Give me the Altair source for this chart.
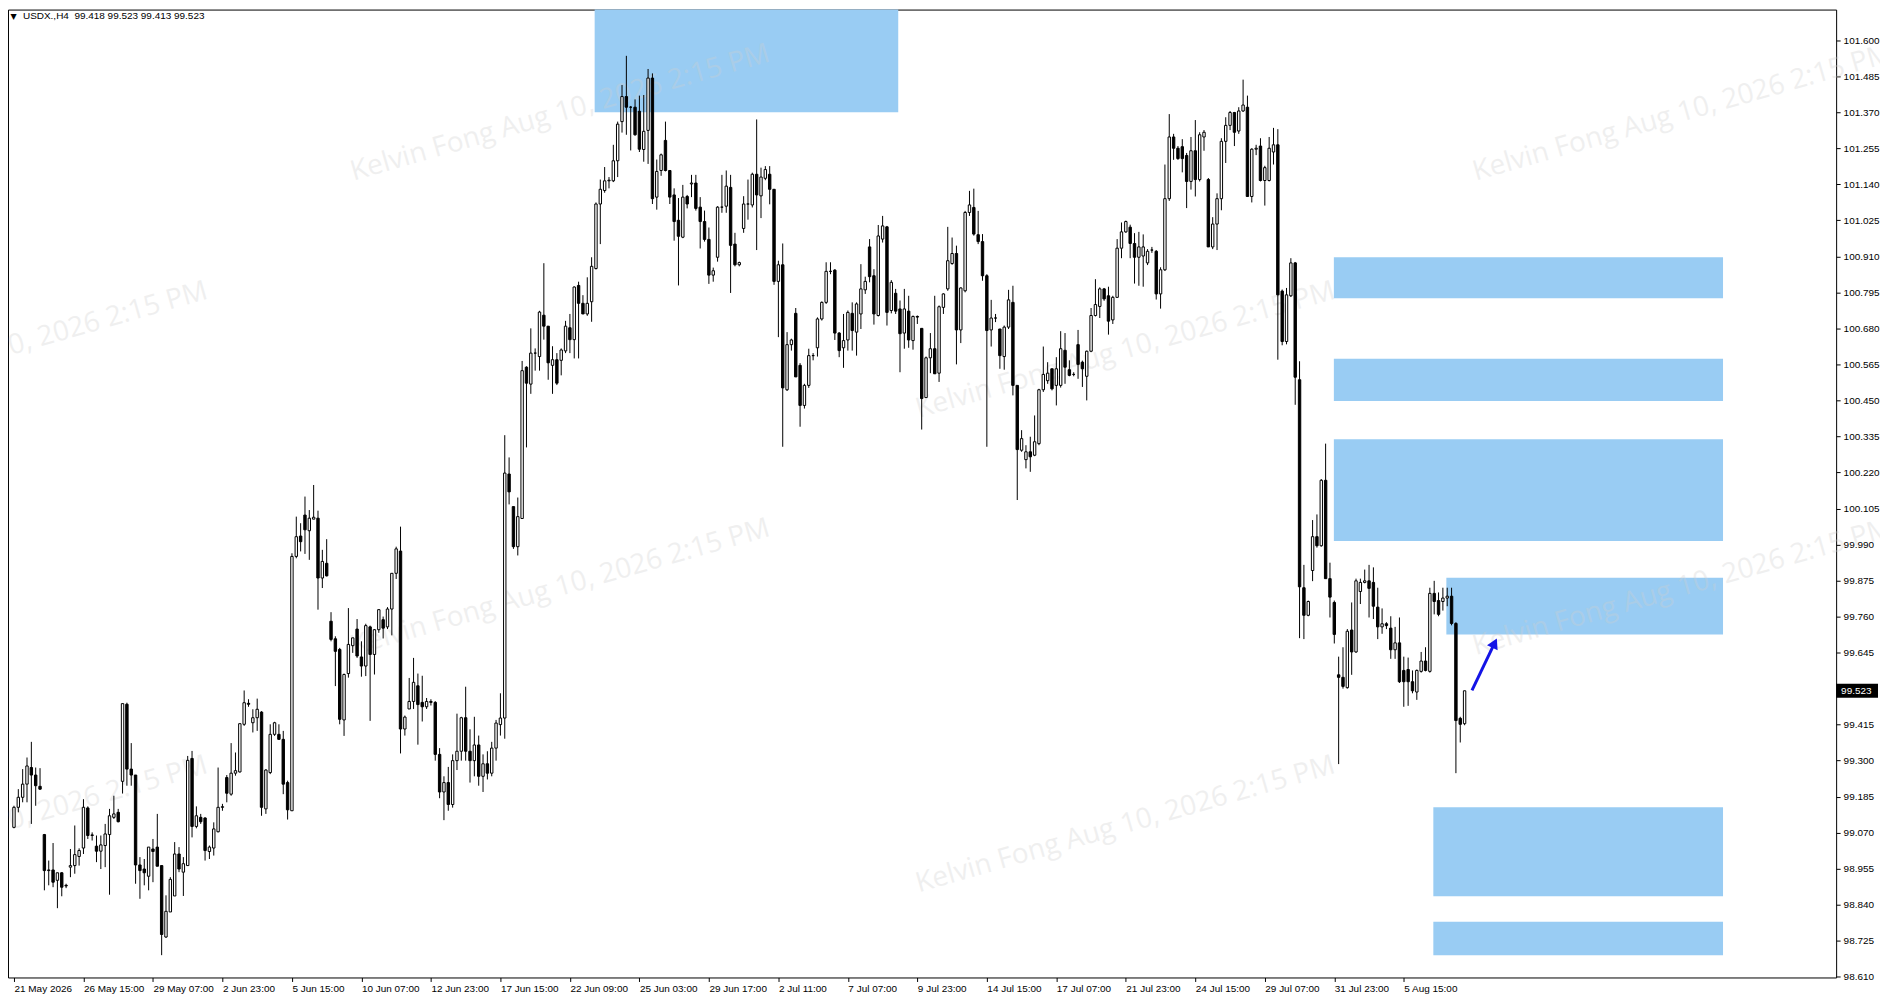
import altair as alt
import pandas as pd

opens = [
99.087,99.151,99.183,99.225,99.278,99.254,99.218,99.064,98.949,98.951,
98.918,98.942,98.902,98.960,98.965,98.994,99.021,99.149,99.061,99.027,
99.011,99.029,99.064,99.119,99.135,99.234,99.480,99.273,99.254,98.967,
98.954,98.931,99.018,99.024,98.965,98.737,98.817,98.868,99.002,98.944,
98.965,99.307,99.090,99.119,99.117,99.010,99.021,99.073,99.151,99.246,
99.193,99.260,99.264,99.416,99.483,99.421,99.437,99.455,99.146,99.262,
99.384,99.384,99.368,99.230,99.140,99.952,100.017,100.084,100.034,100.071,
100.074,99.883,99.930,99.745,99.689,99.655,99.430,99.578,99.667,99.720,
99.631,99.602,99.727,99.639,99.718,99.750,99.727,99.784,99.898,99.969,
99.401,99.465,99.489,99.539,99.486,99.472,99.489,99.486,99.320,99.200,
99.230,99.160,99.300,99.330,99.437,99.330,99.300,99.350,99.250,99.290,
99.260,99.340,99.415,99.436,100.215,100.111,99.983,100.073,100.556,100.502,
100.601,100.590,100.722,100.687,100.562,100.580,100.578,100.608,100.682,100.644,
100.817,100.760,100.726,100.765,100.871,101.077,101.120,101.151,101.151,101.215,
101.340,101.420,101.386,101.386,101.373,101.251,101.312,101.479,101.099,101.184,
101.280,101.184,101.106,101.025,100.971,101.101,101.141,101.144,101.067,101.021,
100.964,100.850,100.907,101.067,101.070,101.130,100.949,100.883,100.999,101.077,
101.074,101.172,101.103,101.159,101.172,101.124,100.830,100.883,100.484,100.628,
100.728,100.562,100.434,100.498,100.593,100.618,100.710,100.763,100.862,100.866,
100.665,100.618,100.643,100.728,100.668,100.726,100.803,100.940,100.848,100.721,
100.965,101.004,100.737,100.792,100.742,100.665,100.735,100.641,100.718,100.680,
100.459,100.586,100.615,100.537,100.747,100.806,100.887,100.919,100.675,100.800,
101.050,101.066,100.979,100.957,100.848,100.675,100.713,100.678,100.590,100.684,
100.763,100.498,100.291,100.261,100.286,100.275,100.312,100.484,100.513,100.551,
100.498,100.498,100.610,100.548,100.533,100.628,100.572,100.527,100.607,100.721,
100.750,100.806,100.784,100.707,100.779,100.936,100.988,101.003,100.951,100.907,
100.911,100.889,100.930,100.926,100.790,100.867,101.094,101.291,101.255,101.260,
101.232,101.149,101.247,101.155,101.291,101.155,100.940,101.013,101.094,101.277,
101.328,101.369,101.310,101.374,101.386,101.101,101.252,101.262,101.152,101.152,
101.243,101.266,100.799,100.638,100.784,100.889,100.516,99.852,99.764,99.907,
100.015,99.986,100.195,99.881,99.805,99.574,99.566,99.533,99.717,99.647,
99.840,99.869,99.874,99.869,99.790,99.727,99.737,99.723,99.654,99.676,
99.588,99.591,99.552,99.519,99.585,99.618,99.585,99.834,99.811,99.808,
99.819,99.825,99.738,99.435,99.418]

highs = [
99.156,99.209,99.273,99.310,99.360,99.278,99.276,99.066,98.981,99.037,
98.942,98.944,98.907,99.018,99.093,99.020,99.177,99.154,99.071,99.061,
99.061,99.098,99.146,99.188,99.146,99.482,99.485,99.356,99.254,98.992,
98.986,99.024,99.050,99.130,98.965,98.870,98.928,99.040,99.024,98.992,
99.315,99.331,99.154,99.130,99.119,99.029,99.103,99.278,99.162,99.254,
99.356,99.326,99.418,99.524,99.496,99.464,99.498,99.458,99.273,99.416,
99.424,99.416,99.395,99.236,99.962,100.079,100.058,100.143,100.100,100.180,
100.098,99.973,100.007,99.774,99.697,99.660,99.578,99.787,99.692,99.752,
99.681,99.737,99.731,99.720,99.784,99.760,99.790,99.898,99.983,100.047,
99.444,99.564,99.628,99.578,99.571,99.500,99.496,99.490,99.340,99.250,
99.280,99.320,99.450,99.440,99.536,99.400,99.440,99.380,99.320,99.330,
99.360,99.430,99.515,100.339,100.268,100.111,100.140,100.576,100.559,100.680,
100.616,100.736,100.888,100.687,100.623,100.601,100.616,100.704,100.726,100.814,
100.829,100.786,100.843,100.907,101.082,101.155,101.195,101.163,101.266,101.340,
101.457,101.550,101.390,101.411,101.423,101.425,101.508,101.494,101.219,101.238,
101.340,101.184,101.127,101.096,101.138,101.106,101.170,101.170,101.099,101.056,
101.002,100.874,101.070,101.170,101.184,101.170,100.985,100.893,101.102,101.155,
101.177,101.347,101.193,101.198,101.198,101.124,100.896,100.951,100.668,100.647,
100.745,100.569,100.503,100.615,100.601,100.715,100.766,100.891,100.891,100.869,
100.668,100.726,100.737,100.763,100.763,100.885,100.845,100.965,100.869,101.010,
101.039,101.007,100.834,100.806,100.769,100.806,100.784,100.721,100.721,100.680,
100.590,100.665,100.784,100.753,100.792,101.004,100.970,100.944,100.811,101.055,
101.119,101.126,101.055,100.981,100.853,100.771,100.726,100.678,100.689,100.803,
100.816,100.498,100.355,100.307,100.334,100.402,100.487,100.622,100.572,100.551,
100.588,100.671,100.665,100.578,100.540,100.675,100.577,100.609,100.745,100.837,
100.811,100.809,100.813,100.784,100.965,101.018,101.024,101.011,100.984,100.988,
100.980,100.933,100.940,100.930,100.875,101.203,101.364,101.301,101.262,101.284,
101.240,101.291,101.345,101.306,101.313,101.160,101.035,101.111,101.287,101.354,
101.374,101.371,101.386,101.474,101.423,101.255,101.266,101.287,101.199,101.291,
101.320,101.316,100.804,100.809,100.904,100.892,100.575,99.925,99.811,100.068,
100.086,100.199,100.312,99.932,99.811,99.632,99.662,99.720,99.805,99.881,
99.881,99.910,99.925,99.917,99.852,99.786,99.742,99.761,99.727,99.757,
99.632,99.629,99.588,99.591,99.647,99.662,99.852,99.874,99.837,99.852,
99.852,99.852,99.742,99.440,99.523]

lows = [
99.084,99.135,99.167,99.167,99.098,99.156,99.207,98.886,98.902,98.896,
98.829,98.867,98.893,98.928,98.939,98.965,99.002,99.050,99.045,98.976,
98.954,98.960,98.872,99.114,99.103,99.195,99.220,99.220,98.907,98.859,
98.902,98.886,98.912,98.963,98.679,98.734,98.817,98.868,98.944,98.868,
98.965,99.055,99.084,99.098,98.981,98.986,98.997,99.071,99.140,99.167,
99.188,99.252,99.262,99.411,99.472,99.390,99.395,99.124,99.130,99.257,
99.379,99.366,99.193,99.112,99.140,99.946,99.968,99.960,99.941,100.071,
99.782,99.851,99.888,99.681,99.538,99.416,99.379,99.565,99.644,99.628,
99.568,99.570,99.427,99.575,99.708,99.690,99.720,99.700,99.880,99.323,
99.380,99.465,99.465,99.351,99.425,99.465,99.476,99.300,99.180,99.110,
99.140,99.150,99.270,99.300,99.300,99.230,99.250,99.220,99.200,99.240,
99.250,99.300,99.380,99.370,100.118,99.976,99.955,100.073,100.300,100.471,
100.545,100.545,100.644,100.516,100.471,100.499,100.530,100.601,100.601,100.584,
100.584,100.726,100.720,100.701,100.868,100.949,101.113,101.127,101.147,101.163,
101.305,101.298,101.248,101.295,101.243,101.212,101.205,101.077,101.059,101.167,
101.181,101.077,100.960,100.817,100.968,101.063,101.099,101.056,100.935,100.957,
100.822,100.829,100.893,101.049,101.049,100.793,100.878,100.878,100.985,101.027,
101.066,100.930,101.032,101.153,101.076,100.819,100.652,100.302,100.480,100.609,
100.525,100.366,100.424,100.490,100.578,100.590,100.705,100.758,100.853,100.643,
100.588,100.554,100.609,100.609,100.593,100.678,100.790,100.827,100.692,100.718,
100.954,100.689,100.728,100.726,100.540,100.615,100.618,100.612,100.694,100.357,
100.459,100.537,100.535,100.509,100.726,100.800,100.883,100.565,100.633,100.795,
101.039,100.976,100.949,100.832,100.302,100.622,100.700,100.551,100.548,100.678,
100.466,100.132,100.286,100.233,100.222,100.272,100.307,100.477,100.503,100.482,
100.434,100.491,100.503,100.527,100.527,100.519,100.493,100.450,100.604,100.718,
100.713,100.768,100.660,100.694,100.777,100.904,100.985,100.904,100.823,100.816,
100.813,100.882,100.921,100.772,100.743,100.863,101.087,101.218,101.218,101.178,
101.064,101.123,101.101,101.149,101.247,100.940,100.933,100.930,101.057,101.208,
101.313,101.262,101.301,101.371,101.101,101.082,101.233,101.149,101.072,101.149,
101.203,100.580,100.626,100.629,100.780,100.436,99.691,99.688,99.761,99.873,
99.980,99.983,99.881,99.757,99.674,99.289,99.530,99.530,99.574,99.644,
99.800,99.866,99.757,99.752,99.688,99.705,99.720,99.625,99.625,99.548,
99.472,99.475,99.515,99.494,99.581,99.585,99.581,99.767,99.761,99.779,
99.793,99.732,99.260,99.358,99.413]

closes = [
99.151,99.183,99.225,99.283,99.254,99.220,99.209,98.949,98.951,98.912,
98.942,98.896,98.900,98.965,99.000,99.013,99.151,99.061,99.063,99.011,
99.031,99.066,99.124,99.130,99.105,99.482,99.273,99.254,98.967,98.949,
98.942,99.024,99.010,98.963,98.745,98.819,98.921,99.002,98.954,98.971,
99.301,99.090,99.124,99.105,99.013,99.024,99.082,99.151,99.153,99.196,
99.260,99.268,99.418,99.485,99.480,99.437,99.464,99.151,99.270,99.384,
99.421,99.368,99.225,99.143,99.952,100.015,99.999,100.037,100.074,100.077,
99.883,99.936,99.890,99.687,99.649,99.432,99.575,99.671,99.692,99.634,
99.602,99.731,99.639,99.718,99.782,99.723,99.784,99.898,99.976,99.401,
99.439,99.489,99.550,99.479,99.472,99.489,99.486,99.320,99.200,99.230,
99.160,99.300,99.330,99.437,99.330,99.300,99.350,99.250,99.290,99.260,
99.340,99.420,99.436,100.218,100.158,99.983,100.079,100.545,100.505,100.601,
100.601,100.732,100.687,100.570,100.580,100.505,100.611,100.687,100.644,100.812,
100.760,100.726,100.760,100.878,101.077,101.124,101.151,101.153,101.215,101.332,
101.420,101.386,101.386,101.298,101.252,101.309,101.479,101.094,101.181,101.234,
101.184,101.099,101.021,100.974,101.099,101.077,101.144,101.063,101.021,100.964,
100.850,100.864,101.067,101.067,101.134,100.945,100.883,100.890,101.077,101.077,
101.172,101.106,101.163,101.187,101.124,100.830,100.883,100.490,100.628,100.643,
100.525,100.434,100.498,100.593,100.593,100.710,100.763,100.862,100.862,100.665,
100.609,100.641,100.731,100.673,100.758,100.806,100.830,100.845,100.726,100.975,
101.007,100.731,100.827,100.735,100.663,100.742,100.643,100.718,100.716,100.456,
100.586,100.615,100.535,100.749,100.790,100.896,100.919,100.675,100.809,101.050,
101.074,100.981,100.957,100.848,100.673,100.713,100.713,100.593,100.684,100.771,
100.498,100.293,100.328,100.286,100.270,100.318,100.484,100.533,100.537,100.487,
100.551,100.615,100.556,100.530,100.533,100.565,100.551,100.607,100.721,100.756,
100.806,100.774,100.703,100.779,100.936,100.988,101.021,100.951,100.907,100.940,
100.940,100.926,100.930,100.790,100.867,101.094,101.291,101.255,101.222,101.222,
101.149,101.247,101.155,101.298,101.306,100.940,101.013,101.094,101.277,101.328,
101.369,101.306,101.374,101.393,101.101,101.252,101.255,101.152,101.193,101.255,
101.266,100.787,100.638,100.787,100.889,100.524,99.855,99.764,99.808,100.015,
99.986,100.195,99.881,99.822,99.703,99.566,99.537,99.713,99.647,99.874,
99.869,99.874,99.850,99.793,99.727,99.737,99.731,99.654,99.676,99.552,
99.552,99.552,99.523,99.588,99.618,99.588,99.834,99.808,99.767,99.819,
99.825,99.738,99.428,99.416,99.523]

x_label_bars = [0, 16, 32, 48, 64, 80, 96, 112, 128, 144, 160, 176, 192, 208,
                224, 240, 256, 272, 288, 304, 320]
x_labels = ["21 May 2026", "26 May 15:00", "29 May 07:00", "2 Jun 23:00", "5 Jun 15:00",
            "10 Jun 07:00", "12 Jun 23:00", "17 Jun 15:00", "22 Jun 09:00", "25 Jun 03:00",
            "29 Jun 17:00", "2 Jul 11:00", "7 Jul 07:00", "9 Jul 23:00", "14 Jul 15:00",
            "17 Jul 07:00", "21 Jul 23:00", "24 Jul 15:00", "29 Jul 07:00", "31 Jul 23:00",
            "5 Aug 15:00"]
y_ticks = [98.610, 98.725, 98.840, 98.955, 99.070, 99.185, 99.300, 99.415,
           99.645, 99.760, 99.875, 99.990, 100.105, 100.220, 100.335, 100.450,
           100.565, 100.680, 100.795, 100.910, 101.025, 101.140, 101.255, 101.370,
           101.485, 101.600]

zone_x1 = [133.7, 303.9, 303.9, 303.9, 329.8, 326.8, 326.8]
zone_x2 = [203.6, 393.5, 393.5, 393.5, 393.5, 393.5, 393.5]
zone_top = [101.75, 100.907, 100.583, 100.326, 99.884, 99.151, 98.786]
zone_bot = [101.370, 100.776, 100.448, 100.001, 99.703, 98.867, 98.679]

arrow_x = [335.7, 340.9]
arrow_y = [99.524, 99.675]

last_price = 99.523
header = "USDX.,H4\u00a0 99.418 99.523 99.413 99.523"
watermark = "Kelvin Fong Aug 10, 2026 2:15 PM"

W, H = 1834, 971
xs = alt.Scale(domain=[-0.2283, 418.398], nice=False, zero=False)
ys = alt.Scale(domain=[98.6078, 101.6977], nice=False, zero=False)

label_expr = "[" + ",".join("'" + s + "'" for s in x_labels) + "][round(datum.value/16)]"
FONT = "Liberation Sans"
xaxis = alt.Axis(values=x_label_bars, labelExpr=label_expr, labelAlign="left",
                 labelBaseline="top", labelPadding=2, labelOffset=0, tickSize=4,
                 tickColor="black", domain=False, grid=False, title=None,
                 labelFont=FONT, labelFontSize=10, labelColor="black",
                 labelOverlap=False, labelFlush=False, labelBound=False)
yaxis = alt.Axis(orient="right", values=y_ticks, format=".3f", tickSize=4,
                 tickColor="black", labelPadding=3, domain=False, grid=False,
                 title=None, labelFont=FONT, labelFontSize=10, labelColor="black",
                 labelOverlap=False, labelFlush=False, labelBound=False)

n = len(closes)
df = pd.DataFrame({"i": list(range(n)), "open": opens, "high": highs,
                   "low": lows, "close": closes})
df["dir"] = ["up" if c >= o else "down" for o, c in zip(opens, closes)]

zones = pd.DataFrame({"x1": zone_x1, "x2": zone_x2, "top": zone_top, "bot": zone_bot})
zone_layer = alt.Chart(zones).mark_rect(color="#99CCF3", clip=True).encode(
    x=alt.X("x1:Q", scale=xs, axis=xaxis), x2="x2:Q",
    y=alt.Y("top:Q", scale=ys, axis=yaxis), y2="bot:Q")

wm_layers = []
wm_pos = [(554, 104), (1680, 104), (-10, 342), (1121, 342),
          (554, 580), (1680, 580), (-10, 818), (1121, 818)]
for (px, py) in wm_pos:
    wm_layers.append(
        alt.Chart(pd.DataFrame({"t": [watermark]})).mark_text(
            font="Open Sans", fontSize=28, angle=344, align="center", baseline="middle",
            color="#d0d0d0", opacity=0.32
        ).encode(x=alt.value(px), y=alt.value(py), text="t:N"))

wick = alt.Chart(df).mark_rule(color="black", strokeWidth=1, clip=True).encode(
    x=alt.X("i:Q", scale=xs, axis=xaxis), y=alt.Y("low:Q", scale=ys, axis=yaxis), y2="high:Q")
body = alt.Chart(df).mark_bar(size=2.4, stroke="black", strokeWidth=1, clip=True).encode(
    x=alt.X("i:Q", scale=xs, axis=xaxis), y=alt.Y("open:Q", scale=ys, axis=yaxis), y2="close:Q",
    fill=alt.Fill("dir:N", scale=alt.Scale(domain=["up", "down"], range=["white", "black"]),
                  legend=None))

arrow_df = pd.DataFrame({"x": arrow_x, "y": arrow_y})
arrow_line = alt.Chart(arrow_df).mark_line(color="#1414e6", strokeWidth=3, clip=True).encode(
    x=alt.X("x:Q", scale=xs, axis=xaxis), y=alt.Y("y:Q", scale=ys, axis=yaxis))
arrow_head = alt.Chart(pd.DataFrame({"x": [arrow_x[1]], "y": [arrow_y[1]]})).mark_point(
    shape="triangle-up", filled=True, size=140, angle=26, color="#1414e6", opacity=1
).encode(x=alt.X("x:Q", scale=xs, axis=xaxis), y=alt.Y("y:Q", scale=ys, axis=yaxis))

head_tri = alt.Chart(pd.DataFrame({"t": ["\u25bc"]})).mark_text(
    font="DejaVu Sans", fontSize=8, align="center", baseline="middle", color="black"
).encode(x=alt.value(5.5), y=alt.value(7), text="t:N")
head_txt = alt.Chart(pd.DataFrame({"t": [header]})).mark_text(
    font=FONT, fontSize=10, align="left", baseline="alphabetic", color="black"
).encode(x=alt.value(15), y=alt.value(9.5), text="t:N")

tag_box = alt.Chart(pd.DataFrame({"p": [last_price]})).mark_tick(
    color="black", thickness=14, size=42, opacity=1
).encode(x=alt.value(1855), y=alt.Y("p:Q", scale=ys, axis=yaxis))
tag_txt = alt.Chart(pd.DataFrame({"p": [last_price], "t": ["99.523"]})).mark_text(
    font=FONT, fontSize=10, align="left", baseline="middle", color="white"
).encode(x=alt.value(1839), y=alt.Y("p:Q", scale=ys, axis=yaxis), text="t:N")

chart = alt.layer(zone_layer, *wm_layers, wick, body, arrow_line, arrow_head,
                  head_tri, head_txt, tag_box, tag_txt).properties(
    width=W, height=H,
    padding={"left": 0, "top": 0, "right": 44, "bottom": 15},
    autosize=alt.AutoSizeParams(type="none"),
    background="white",
).configure_view(stroke="black", strokeWidth=1, fill="white"
).configure_axis(labelOverlap=False, labelFlush=False)

chart.save("out.html", embed_options={"renderer": "svg", "actions": False})
